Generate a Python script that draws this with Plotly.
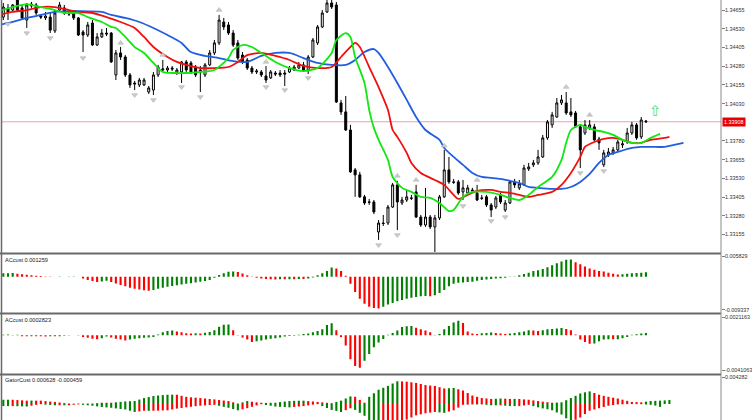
import plotly.graph_objects as go

# ---------------- price bars (bar index 0..137) ----------------
bar_index = list(range(138))
opens = [1.34608, 1.34669, 1.34655, 1.34722, 1.34669, 1.34588, 1.34695, 1.34689, 1.34615, 1.34602,
         1.34608, 1.34515, 1.34655, 1.34669, 1.34635, 1.34635, 1.34602, 1.34508, 1.34488, 1.34568,
         1.34421, 1.34475, 1.34501, 1.34501, 1.34221, 1.34368, 1.34341, 1.34221, 1.34167, 1.34154,
         1.34154, 1.34107, 1.34120, 1.34221, 1.34254, 1.34254, 1.34267, 1.34234, 1.34241, 1.34308,
         1.34301, 1.34274, 1.34254, 1.34221, 1.34288, 1.34368, 1.34435, 1.34575, 1.34555, 1.34501,
         1.34435, 1.34354, 1.34321, 1.34267, 1.34241, 1.34241, 1.34214, 1.34201, 1.34234, 1.34234,
         1.34234, 1.34241, 1.34254, 1.34267, 1.34288, 1.34254, 1.34341, 1.34435, 1.34542, 1.34642,
         1.34702, 1.34689, 1.34034, 1.33974, 1.33853, 1.33586, 1.33553, 1.33406, 1.33372, 1.33372,
         1.33171, 1.33231, 1.33231, 1.33338, 1.33486, 1.33365, 1.33385, 1.33399, 1.33439, 1.33271,
         1.33218, 1.33271, 1.33205, 1.33265, 1.33406, 1.33586, 1.33506, 1.33506, 1.33439, 1.33432,
         1.33452, 1.33432, 1.33399, 1.33406, 1.33352, 1.33338, 1.33419, 1.33318, 1.33365, 1.33506,
         1.33466, 1.33486, 1.33593, 1.33620, 1.33633, 1.33673, 1.33800, 1.33887, 1.33940, 1.34034,
         1.34034, 1.33974, 1.33967, 1.33874, 1.33833, 1.33867, 1.33874, 1.33793, 1.33620, 1.33686,
         1.33700, 1.33720, 1.33753, 1.33773, 1.33833, 1.33887, 1.33807, 1.33913]
highs = [1.34702, 1.34695, 1.34695, 1.34735, 1.34689, 1.34702, 1.34709, 1.34702, 1.34628, 1.34642,
         1.34642, 1.34655, 1.34709, 1.34689, 1.34655, 1.34655, 1.34608, 1.34521, 1.34575, 1.34588,
         1.34501, 1.34528, 1.34535, 1.34508, 1.34388, 1.34408, 1.34354, 1.34234, 1.34181, 1.34201,
         1.34201, 1.34147, 1.34241, 1.34288, 1.34321, 1.34281, 1.34281, 1.34267, 1.34314, 1.34321,
         1.34314, 1.34288, 1.34281, 1.34301, 1.34388, 1.34455, 1.34622, 1.34602, 1.34575, 1.34521,
         1.34455, 1.34374, 1.34334, 1.34281, 1.34261, 1.34254, 1.34281, 1.34254, 1.34247, 1.34254,
         1.34254, 1.34281, 1.34288, 1.34308, 1.34308, 1.34354, 1.34468, 1.34555, 1.34655, 1.34742,
         1.34755, 1.34709, 1.34054, 1.34080, 1.33887, 1.33599, 1.33573, 1.33419, 1.33392, 1.33385,
         1.33251, 1.33285, 1.33352, 1.33499, 1.33513, 1.33406, 1.33452, 1.33419, 1.33486, 1.33285,
         1.33466, 1.33285, 1.33285, 1.33419, 1.33720, 1.33673, 1.33526, 1.33519, 1.33519, 1.33486,
         1.33466, 1.33486, 1.33419, 1.33419, 1.33365, 1.33412, 1.33432, 1.33385, 1.33519, 1.33526,
         1.33519, 1.33620, 1.33633, 1.33653, 1.33720, 1.33820, 1.33920, 1.33974, 1.34067, 1.34087,
         1.34107, 1.34067, 1.33980, 1.33887, 1.33920, 1.33920, 1.33894, 1.33807, 1.33720, 1.33733,
         1.33740, 1.33787, 1.33787, 1.33867, 1.33907, 1.33900, 1.33940, 1.33920]
lows = [1.34588, 1.34588, 1.34642, 1.34642, 1.34588, 1.34535, 1.34669, 1.34622, 1.34595, 1.34588,
        1.34501, 1.34501, 1.34642, 1.34622, 1.34615, 1.34588, 1.34481, 1.34374, 1.34475, 1.34415,
        1.34415, 1.34468, 1.34481, 1.34301, 1.34187, 1.34321, 1.34207, 1.34134, 1.34120, 1.34140,
        1.34147, 1.34094, 1.34087, 1.34207, 1.34241, 1.34241, 1.34247, 1.34221, 1.34167, 1.34241,
        1.34227, 1.34207, 1.34107, 1.34207, 1.34281, 1.34354, 1.34421, 1.34521, 1.34488, 1.34408,
        1.34321, 1.34294, 1.34254, 1.34227, 1.34227, 1.34207, 1.34167, 1.34194, 1.34214, 1.34207,
        1.34147, 1.34234, 1.34247, 1.34261, 1.34241, 1.34227, 1.34334, 1.34421, 1.34535, 1.34635,
        1.34662, 1.34034, 1.33954, 1.33847, 1.33566, 1.33406, 1.33399, 1.33352, 1.33352, 1.33291,
        1.33118, 1.33211, 1.33218, 1.33332, 1.33184, 1.33352, 1.33372, 1.33385, 1.33265, 1.33205,
        1.33205, 1.33191, 1.33037, 1.33251, 1.33399, 1.33493, 1.33493, 1.33419, 1.33385, 1.33419,
        1.33432, 1.33378, 1.33385, 1.33338, 1.33271, 1.33325, 1.33358, 1.33305, 1.33358, 1.33466,
        1.33452, 1.33479, 1.33579, 1.33606, 1.33620, 1.33666, 1.33787, 1.33867, 1.33934, 1.34020,
        1.33954, 1.33940, 1.33867, 1.33599, 1.33820, 1.33853, 1.33780, 1.33720, 1.33606, 1.33673,
        1.33686, 1.33706, 1.33733, 1.33760, 1.33820, 1.33787, 1.33793, 1.33900]
closes = [1.34675, 1.34642, 1.34689, 1.34655, 1.34602, 1.34689, 1.34682, 1.34635, 1.34608, 1.34615,
          1.34521, 1.34635, 1.34689, 1.34635, 1.34628, 1.34602, 1.34488, 1.34488, 1.34555, 1.34421,
          1.34475, 1.34501, 1.34495, 1.34308, 1.34368, 1.34341, 1.34221, 1.34154, 1.34161, 1.34187,
          1.34187, 1.34134, 1.34221, 1.34274, 1.34261, 1.34267, 1.34261, 1.34254, 1.34308, 1.34254,
          1.34241, 1.34221, 1.34241, 1.34288, 1.34368, 1.34435, 1.34588, 1.34542, 1.34501, 1.34421,
          1.34334, 1.34308, 1.34267, 1.34241, 1.34247, 1.34221, 1.34187, 1.34241, 1.34227, 1.34221,
          1.34227, 1.34267, 1.34274, 1.34288, 1.34254, 1.34341, 1.34455, 1.34542, 1.34635, 1.34702,
          1.34675, 1.34040, 1.33974, 1.33853, 1.33573, 1.33553, 1.33406, 1.33365, 1.33370, 1.33305,
          1.33231, 1.33228, 1.33338, 1.33486, 1.33372, 1.33385, 1.33406, 1.33396, 1.33271, 1.33218,
          1.33271, 1.33205, 1.33265, 1.33406, 1.33586, 1.33506, 1.33503, 1.33432, 1.33466, 1.33466,
          1.33446, 1.33385, 1.33396, 1.33352, 1.33318, 1.33399, 1.33372, 1.33365, 1.33506, 1.33486,
          1.33493, 1.33599, 1.33606, 1.33633, 1.33673, 1.33800, 1.33907, 1.33954, 1.34034, 1.34054,
          1.33967, 1.33954, 1.33874, 1.33720, 1.33887, 1.33887, 1.33787, 1.33767, 1.33700, 1.33706,
          1.33720, 1.33773, 1.33760, 1.33833, 1.33887, 1.33800, 1.33920, 1.33908]
current_price = 1.33908

# ---------------- Alligator lines (sampled by bar index) ----------------
jaw_x = [-1, 2, 5, 8, 11, 14, 16, 21, 23, 26, 29, 32, 35, 38, 40, 43, 46, 49, 52, 55, 58, 61, 64, 67,
         70, 73, 75, 77, 79, 80, 82, 84, 86, 88, 90, 93, 94, 96, 98, 100, 102, 104, 106, 108, 110,
         112, 114, 117, 119, 121, 123, 125, 127, 129, 131, 134, 136, 138, 141, 143, 145]
jaw_y = [1.34555, 1.34575, 1.34602, 1.34622, 1.34642, 1.34648, 1.34648, 1.34642, 1.34622, 1.34602,
         1.34575, 1.34535, 1.34488, 1.34435, 1.34374, 1.34348, 1.34334, 1.34314, 1.34308, 1.34348,
         1.34368, 1.34368, 1.34334, 1.34301, 1.34288, 1.34288, 1.34321, 1.34374, 1.34394, 1.34368,
         1.34274, 1.34167, 1.34054, 1.33940, 1.33853, 1.33787, 1.33733, 1.33673, 1.33620, 1.33566,
         1.33539, 1.33533, 1.33526, 1.33513, 1.33499, 1.33472, 1.33466, 1.33459, 1.33459, 1.33472,
         1.33506, 1.33559, 1.33633, 1.33686, 1.33706, 1.33733, 1.33740, 1.33740, 1.33740, 1.33753,
         1.33767]
teeth_x = [-1, 2, 5, 8, 11, 14, 16, 19, 22, 25, 28, 30, 32, 35, 37, 39, 42, 45, 48, 50, 52, 55, 58,
           61, 64, 67, 70, 72, 74, 75, 76, 78, 80, 82, 83, 84, 86, 87, 89, 92, 94, 96, 97, 99, 101,
           104, 106, 108, 110, 112, 114, 117, 119, 121, 123, 124, 126, 128, 130, 132, 134, 136, 138,
           141, 142]
teeth_y = [1.34622, 1.34642, 1.34655, 1.34675, 1.34675, 1.34655, 1.34642, 1.34635, 1.34608, 1.34575,
           1.34535, 1.34475, 1.34408, 1.34341, 1.34308, 1.34288, 1.34267, 1.34267, 1.34274, 1.34308,
           1.34354, 1.34368, 1.34348, 1.34321, 1.34281, 1.34267, 1.34274, 1.34341, 1.34408, 1.34435,
           1.34408, 1.34274, 1.34140, 1.33987, 1.33853, 1.33807, 1.33700, 1.33633, 1.33566, 1.33519,
           1.33486, 1.33419, 1.33392, 1.33419, 1.33446, 1.33452, 1.33439, 1.33432, 1.33419, 1.33406,
           1.33419, 1.33439, 1.33486, 1.33566, 1.33673, 1.33740, 1.33773, 1.33793, 1.33800, 1.33787,
           1.33767, 1.33767, 1.33787, 1.33800, 1.33807]
lips_x = [-1, 2, 5, 6, 8, 11, 13, 16, 18, 21, 23, 24, 26, 28, 30, 32, 34, 36, 39, 42, 45, 48, 49, 51,
          53, 55, 58, 61, 64, 67, 70, 71, 73, 74, 75, 77, 78, 79, 80, 82, 83, 85, 87, 89, 91, 93, 95,
          96, 98, 100, 103, 106, 108, 110, 112, 114, 117, 119, 120, 121, 123, 124, 126, 128, 130, 132,
          134, 136, 138, 140]
lips_y = [1.34648, 1.34675, 1.34695, 1.34689, 1.34675, 1.34655, 1.34635, 1.34635, 1.34608, 1.34575,
          1.34542, 1.34535, 1.34475, 1.34408, 1.34368, 1.34301, 1.34241, 1.34234, 1.34234, 1.34241,
          1.34254, 1.34334, 1.34388, 1.34421, 1.34408, 1.34368, 1.34308, 1.34267, 1.34247, 1.34267,
          1.34368, 1.34455, 1.34501, 1.34475, 1.34341, 1.34167, 1.33987, 1.33867, 1.33787, 1.33653,
          1.33539, 1.33466, 1.33439, 1.33406, 1.33399, 1.33365, 1.33311, 1.33318, 1.33406, 1.33439,
          1.33439, 1.33419, 1.33399, 1.33385, 1.33419, 1.33472, 1.33539, 1.33653, 1.33767, 1.33853,
          1.33887, 1.33874, 1.33853, 1.33840, 1.33820, 1.33787, 1.33767, 1.33767, 1.33800, 1.33827]

# ---------------- fractals ----------------
fractal_up_x = [25, 34, 46, 56, 84, 88, 94, 101, 120, 125]
fractal_up_y = [1.34435, 1.34354, 1.34655, 1.34308, 1.33546, 1.33519, 1.33747, 1.33519, 1.34140, 1.33954]
fractal_dn_x = [1, 5, 10, 17, 28, 32, 38, 42, 56, 60, 65, 80, 84, 98, 104, 107, 123, 128]
fractal_dn_y = [1.34562, 1.34501, 1.34468, 1.34334, 1.34087, 1.34054, 1.34140, 1.34074, 1.34140,
                1.34120, 1.34201, 1.33084, 1.33151, 1.33345, 1.33245, 1.33271, 1.33566, 1.33579]
signal_x = [139]
signal_y = [1.33970]

# ---------------- ACcust (panel 2) ----------------
ac1 = [0.00095, 0.00100, 0.00105, 0.00085, 0.00070, 0.00055, 0.00042, 0.00030, 0.00020, 0.00010,
       0.00005, 0.00003, 0.00005, 0.00002, 0.00004, 0.00006, 0.00002, -0.0005, -0.0009, -0.0012,
       -0.0015, -0.0013, -0.0011, -0.0015, -0.0019, -0.0023, -0.0027, -0.0031, -0.0034, -0.0036,
       -0.0038, -0.0039, -0.0037, -0.0034, -0.0031, -0.0028, -0.0026, -0.0024, -0.0022, -0.0020,
       -0.0018, -0.0016, -0.0014, -0.0012, -0.0009, -0.0003, 0.0005, 0.0010, 0.0014, 0.0015,
       0.0013, 0.0009, 0.0004, 0.0001, -0.0003, -0.0005, -0.0006, -0.0007, -0.00075, -0.0007,
       -0.00072, -0.00068, -0.0007, -0.0006, -0.00062, -0.0005, -0.0002, 0.0004, 0.0010, 0.0016,
       0.0026, 0.0023, 0.0016, 0.0003, -0.0020, -0.0043, -0.0062, -0.0076, -0.0084, -0.0088,
       -0.0089, -0.0084, -0.0078, -0.0074, -0.0069, -0.0065, -0.0062, -0.0059, -0.0057, -0.0055,
       -0.0054, -0.0055, -0.0052, -0.0046, -0.0037, -0.0027, -0.0020, -0.0017, -0.0016, -0.0015,
       -0.0014, -0.0011, -0.0009, -0.00075, -0.00065, -0.0005, -0.0004, -0.0003, -0.0001, 0.0001,
       0.0004, 0.0008, 0.0011, 0.0016, 0.0018, 0.0022, 0.0027, 0.0032, 0.0038, 0.0043,
       0.0048, 0.00485, 0.0041, 0.0035, 0.0029, 0.0023, 0.0020, 0.0016, 0.0015, 0.0011,
       0.00085, 0.00065, 0.0007, 0.00085, 0.00095, 0.00105, 0.00115, 0.001259]

# ---------------- ACcust (panel 3) ----------------
ac2 = [0.00005, 0.00008, 0.00003, 0.00005, -0.0001, -0.00012, -0.0001, -0.00011, -0.00012, -0.00013,
       -0.0001, -0.00012, -0.0001, -0.00006, -0.00003, 0.00002, -0.00003, -0.0002, -0.0003, -0.0004,
       -0.00045, -0.00035, -0.00015, -0.00025, -0.0004, -0.0005, -0.0006, -0.0005, -0.0004, -0.00035,
       -0.0003, -0.00025, -0.0002, 0.0001, 0.00035, 0.0005, 0.00055, 0.00045, 0.00035, 0.00025,
       0.0002, 0.00025, 0.0002, 0.0003, 0.0004, 0.0006, 0.001, 0.00125, 0.00128, 0.0006,
       0.00003, -0.00025, -0.0005, -0.0008, -0.0007, -0.0006, -0.0005, -0.0004, -0.00035, -0.00025,
       -0.00015, -0.00008, -0.00005, 0.00005, 0.00015, 0.0002, 0.00035, 0.0005, 0.0007, 0.0012,
       0.0014, 0.0006, -0.0002, -0.0012, -0.0028, -0.0036, -0.0038, -0.003, -0.0022, -0.0014,
       -0.00086, -0.00043, 0.00005, 0.00027, 0.00055, 0.00098, 0.00105, 0.00109, 0.0009, 0.0007,
       0.00055, 0.00035, 0.00003, 0.00015, 0.0007, 0.0011, 0.0015, 0.0017, 0.00145, 0.00045,
       0.0002, 0.00016, 0.00024, 0.00028, 0.00032, 0.00026, 0.0002, 0.00015, 0.0002, 0.00028,
       0.00035, 0.00045, 0.0006, 0.00055, 0.0005, 0.0006, 0.0007, 0.00075, 0.0008, 0.00085,
       0.00075, 0.0006, 0.0001, -0.0005, -0.0008, -0.001, -0.00095, -0.0007, -0.0005, -0.00045,
       -0.00047, -0.00046, -0.00035, -0.0002, 0.00005, 0.00012, 0.00022, 0.0002823]

# ---------------- GatorCust (panel 4) ----------------
gator_upper = [0.00067, 0.00068, 0.00067, 0.00062, 0.00058, 0.00053, 0.00054, 0.00053, 0.00053, 0.00046,
               0.00039, 0.00033, 0.00024, 0.00014, 0.00007, 0.00006, 0.00007, 0.00006, 0.00007, 0.00007,
               0.00013, 0.0002, 0.0002, 0.0002, 0.00027, 0.00034, 0.0004, 0.00044, 0.00047, 0.0007,
               0.00094, 0.0011, 0.00127, 0.00135, 0.00142, 0.00147, 0.00148, 0.00147, 0.0013, 0.00114,
               0.00106, 0.001, 0.00094, 0.00087, 0.0008, 0.00073, 0.00064, 0.00055, 0.00047, 0.00027,
               0.00007, 0.00026, 0.00047, 0.00036, 0.00026, 0.0002, 0.00018, 0.00019, 0.0002, 0.0003,
               0.00039, 0.00047, 0.0005, 0.00052, 0.00053, 0.00046, 0.0004, 0.00033, 0.00026, 0.00019,
               0.00013, 0.00033, 0.00053, 0.00087, 0.0012, 0.00114, 0.00065, 0.0002, 0.00114, 0.0017,
               0.00227, 0.00257, 0.00287, 0.00325, 0.0036, 0.00358, 0.00354, 0.00344, 0.00334, 0.00317,
               0.003, 0.00293, 0.00287, 0.00267, 0.00247, 0.0025, 0.00254, 0.00234, 0.00214, 0.00174,
               0.00134, 0.00114, 0.00094, 0.00087, 0.0008, 0.00083, 0.00087, 0.00084, 0.0008, 0.00081,
               0.0008, 0.00073, 0.00067, 0.00057, 0.00047, 0.00037, 0.00028, 0.0002, 0.00023, 0.00027,
               0.0006, 0.00094, 0.0013, 0.00167, 0.00185, 0.002, 0.00175, 0.00147, 0.0013, 0.00114,
               0.001, 0.00087, 0.00068, 0.0005, 0.00033, 0.0003, 0.00027, 0.00037, 0.00047, 0.0005,
               0.00053, 0.00057, 0.000628]
gator_lower = [0.00033, 0.00034, 0.00033, 0.00035, 0.00038, 0.0004, 0.00027, 0.00013, 0.00003, 0.00009,
               0.00015, 0.0002, 0.0002, 0.00021, 0.0002, 0.00013, 0.00007, 0.00014, 0.0002, 0.00027,
               0.00037, 0.00047, 0.00054, 0.0006, 0.0007, 0.00079, 0.00087, 0.00107, 0.00127, 0.00117,
               0.00107, 0.00108, 0.00107, 0.00105, 0.00102, 0.001, 0.00087, 0.00073, 0.00063, 0.00053,
               0.00044, 0.00035, 0.00027, 0.00022, 0.00017, 0.00013, 0.00029, 0.00045, 0.0006, 0.0008,
               0.001, 0.00084, 0.00067, 0.00044, 0.00022, 0.00003, 0.00016, 0.00028, 0.0004, 0.00045,
               0.00049, 0.00053, 0.00046, 0.0004, 0.00033, 0.00022, 0.00011, 0.00003, 0.00033, 0.00064,
               0.00094, 0.0011, 0.00127, 0.00097, 0.00067, 0.00094, 0.0014, 0.00187, 0.00287, 0.0032,
               0.00354, 0.00344, 0.00334, 0.00317, 0.003, 0.00274, 0.00247, 0.00214, 0.0018, 0.00164,
               0.00147, 0.00137, 0.00127, 0.00134, 0.0014, 0.0012, 0.001, 0.00057, 0.00013, 0.0001,
               0.00007, 0.00008, 0.00007, 0.00013, 0.0002, 0.00021, 0.0002, 0.00027, 0.00033, 0.00034,
               0.00033, 0.00023, 0.00013, 0.00033, 0.00053, 0.0007, 0.00084, 0.001, 0.00134, 0.00167,
               0.00227, 0.00287, 0.0025, 0.00214, 0.0016, 0.00107, 0.00087, 0.00067, 0.00047, 0.00027,
               0.00017, 0.00007, 0.00005, 0.00003, 0.00002, 0.00002, 0.00003, 0.00008, 0.00013, 0.00025,
               0.000459]

# ---------------- axis labels ----------------
price_ticks = [1.34655, 1.34530, 1.34405, 1.34280, 1.34155, 1.34030, 1.33780, 1.33655,
               1.33530, 1.33405, 1.33280, 1.33155]
ac1_ticks = [0.005829, -0.009337]
ac1_labels = ["0.005829", "-0.009337"]
ac2_ticks = [0.0021163, -0.0041063]
ac2_labels = ["0.0021163", "-0.0041063"]
gator_ticks = [0.004282]
gator_labels = ["0.004282"]

# ---------------- styling helpers ----------------
W, H = 752, 420
ML, MR = 2, 31
PW = W - ML - MR
GREEN, RED = "#008000", "#ff0000"
FONT = "Liberation Sans"


def px_x(p):
    return (p - ML) / PW


def px_y(p):
    return 1 - p / H


def trend_colors(vals):
    out = []
    for i, v in enumerate(vals):
        prev = vals[i - 1] if i > 0 else v - 1
        out.append(GREEN if v > prev else RED)
    return out


fig = go.Figure()

fig.add_trace(go.Candlestick(
    x=bar_index, open=opens, high=highs, low=lows, close=closes,
    increasing=dict(line=dict(color="#000000", width=1), fillcolor="#ffffff"),
    decreasing=dict(line=dict(color="#000000", width=1), fillcolor="#000000"),
    whiskerwidth=0, xaxis="x", yaxis="y", hoverinfo="skip"))

for xs, ys, col in [(jaw_x, jaw_y, "#1f5fe0"), (teeth_x, teeth_y, "#f01010"),
                    (lips_x, lips_y, "#10e810")]:
    fig.add_trace(go.Scatter(x=xs, y=ys, mode="lines",
                             line=dict(color=col, width=1.8, shape="spline", smoothing=0.7),
                             xaxis="x", yaxis="y", hoverinfo="skip"))

fig.add_trace(go.Scatter(x=fractal_up_x, y=fractal_up_y, mode="markers",
                         marker=dict(symbol="triangle-up", size=5, color="#cccccc",
                                     line=dict(color="#a8a8a8", width=0.5)),
                         xaxis="x", yaxis="y", hoverinfo="skip"))
fig.add_trace(go.Scatter(x=fractal_dn_x, y=fractal_dn_y, mode="markers",
                         marker=dict(symbol="triangle-down", size=5, color="#cccccc",
                                     line=dict(color="#a8a8a8", width=0.5)),
                         xaxis="x", yaxis="y", hoverinfo="skip"))
fig.add_trace(go.Scatter(x=signal_x, y=signal_y, mode="text", text=["\u21e7"],
                         textfont=dict(family="DejaVu Sans", size=15, color="#55dd55"),
                         xaxis="x", yaxis="y", hoverinfo="skip"))

fig.add_trace(go.Bar(x=bar_index, y=ac1, marker=dict(color=trend_colors(ac1), line=dict(width=0)),
                     width=0.45, xaxis="x", yaxis="y2", hoverinfo="skip"))
fig.add_trace(go.Bar(x=bar_index, y=ac2, marker=dict(color=trend_colors(ac2), line=dict(width=0)),
                     width=0.45, xaxis="x", yaxis="y3", hoverinfo="skip"))
fig.add_trace(go.Bar(x=list(range(len(gator_upper))), y=gator_upper,
                     marker=dict(color=trend_colors(gator_upper), line=dict(width=0)),
                     width=0.45, xaxis="x", yaxis="y4", hoverinfo="skip"))
fig.add_trace(go.Bar(x=list(range(len(gator_lower))), y=[-v for v in gator_lower],
                     marker=dict(color=trend_colors(gator_lower), line=dict(width=0)),
                     width=0.45, xaxis="x", yaxis="y4", hoverinfo="skip"))


def yax(domain, rng, tv):
    return dict(domain=domain, range=rng, side="right", anchor="x", tickvals=tv,
                showticklabels=False, ticks="outside", ticklen=3, tickcolor="#808080", tickwidth=1,
                showgrid=False, zeroline=False, showline=False, fixedrange=True)


fig.update_layout(
    width=W, height=H, margin=dict(l=ML, r=MR, t=0, b=0, pad=0),
    paper_bgcolor="white", plot_bgcolor="white", showlegend=False,
    barmode="overlay", boxgap=0.4,
    xaxis=dict(domain=[0, 1], range=[-0.28, 153.0], visible=False, fixedrange=True,
               rangeslider=dict(visible=False)),
    yaxis=yax([px_y(252.5), 1], [1.33034, 1.34722], price_ticks),
    yaxis2=yax([px_y(312.5), px_y(255)], [-0.010046, 0.006112], ac1_ticks),
    yaxis3=yax([px_y(373.5), px_y(315)], [-0.004485, 0.002383], ac2_ticks),
    yaxis4=yax([0, px_y(376)], [-0.002538, 0.004441], gator_ticks),
)

shapes = []
shapes.append(dict(type="line", xref="paper", yref="y", x0=px_x(2), x1=1, y0=current_price,
                   y1=current_price, line=dict(color="#f0a0a0", width=1), layer="below"))
for yp in [253.5, 313.5, 374.5]:
    shapes.append(dict(type="line", xref="paper", yref="paper", x0=px_x(0), x1=1,
                       y0=px_y(yp), y1=px_y(yp), line=dict(color="#6a6a6a", width=2)))
shapes.append(dict(type="line", xref="paper", yref="paper", x0=px_x(1.5), x1=px_x(1.5), y0=0, y1=1,
                   line=dict(color="#6a6a6a", width=1.5)))
shapes.append(dict(type="line", xref="paper", yref="paper", x0=1, x1=1, y0=0, y1=1,
                   line=dict(color="#8a8a8a", width=1)))
fig.update_layout(shapes=shapes)

tickfont = dict(family=FONT, size=5.4, color="#303030")
lab = dict(family=FONT, size=5.6, color="#202020")
annots = []
for vals, labels, yr in [(price_ticks, ["%.5f" % v for v in price_ticks], "y"),
                         (ac1_ticks, ac1_labels, "y2"), (ac2_ticks, ac2_labels, "y3"),
                         (gator_ticks, gator_labels, "y4")]:
    for v, t in zip(vals, labels):
        annots.append(dict(xref="paper", yref=yr, x=px_x(723), y=v, text=t, showarrow=False,
                           xanchor="left", yanchor="middle", font=tickfont))
annots.append(dict(xref="paper", yref="y", x=px_x(722), y=current_price, text="%.5f" % current_price,
                   showarrow=False, xanchor="left", yanchor="middle", bgcolor="#e80000",
                   font=dict(family=FONT, size=5.4, color="white"), borderpad=1))
annots.append(dict(xref="paper", yref="paper", x=px_x(3), y=px_y(260), text="ACcust 0.001259",
                   showarrow=False, xanchor="left", yanchor="middle", font=lab))
annots.append(dict(xref="paper", yref="paper", x=px_x(3), y=px_y(320), text="ACcust 0.0002823",
                   showarrow=False, xanchor="left", yanchor="middle", font=lab))
annots.append(dict(xref="paper", yref="paper", x=px_x(3), y=px_y(380),
                   text="GatorCust 0.000628 -0.000459",
                   showarrow=False, xanchor="left", yanchor="middle", font=lab))
fig.update_layout(annotations=annots)

fig.write_html("out.html", config={"displayModeBar": False, "staticPlot": True},
               post_script="document.body.style.margin='0px';"
                           "document.body.style.overflow='hidden';")
